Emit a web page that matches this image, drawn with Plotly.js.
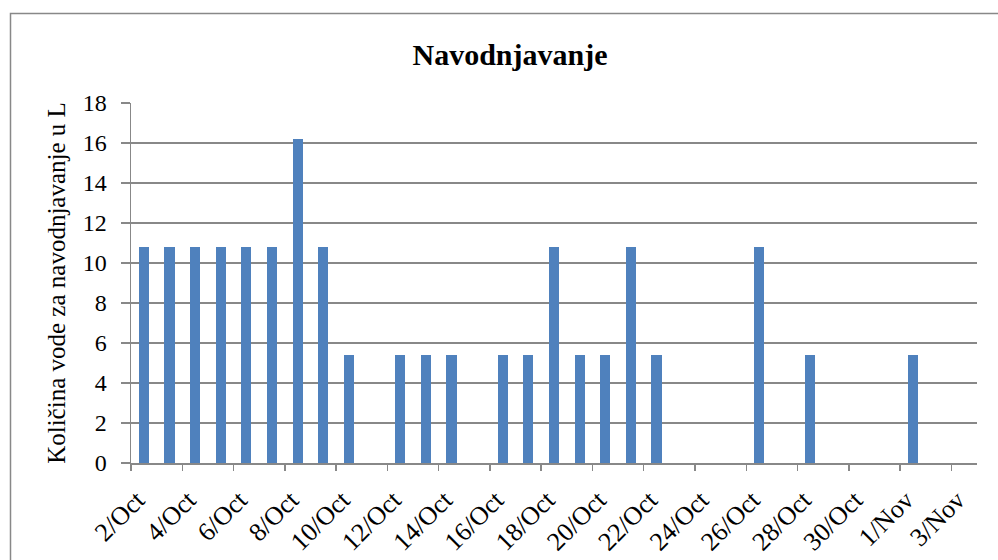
<!DOCTYPE html>
<html>
<head>
<meta charset="utf-8">
<script src="https://cdn.plot.ly/plotly-3.0.1.min.js"></script>
<style>html,body{margin:0;padding:0;background:#fff;}#chart{width:998px;height:560px;}</style>
</head>
<body>
<div id="chart"></div>
<script>
// Days (Oct 2 – Nov 3) and irrigation amounts in litres
const dates = [
  '2013-10-02','2013-10-03','2013-10-04','2013-10-05','2013-10-06','2013-10-07','2013-10-08',
  '2013-10-09','2013-10-10','2013-10-11','2013-10-12','2013-10-13','2013-10-14','2013-10-15',
  '2013-10-16','2013-10-17','2013-10-18','2013-10-19','2013-10-20','2013-10-21','2013-10-22',
  '2013-10-23','2013-10-24','2013-10-25','2013-10-26','2013-10-27','2013-10-28','2013-10-29',
  '2013-10-30','2013-10-31','2013-11-01','2013-11-02','2013-11-03'
];
const liters = [
  10.8,10.8,10.8,10.8,10.8,10.8,16.2,
  10.8,5.4,0,5.4,5.4,5.4,0,
  5.4,5.4,10.8,5.4,5.4,10.8,5.4,
  0,0,0,10.8,0,5.4,0,
  0,0,5.4,0,0
];
const chartTitle = 'Navodnjavanje';
const yTitle = 'Količina vode za navodnjavanje u L';
const xRange = ['2013-10-02','2013-11-04'];
const yTicks = [0,2,4,6,8,10,12,14,16,18];

const DAY = 86400000;
const serif = '"Liberation Serif", "Times New Roman", serif';

const trace = {
  type: 'bar',
  x: dates,
  y: liters,
  xperiod: DAY,
  xperiodalignment: 'middle',
  width: 0.4 * DAY,
  marker: {color: '#4F81BD', line: {width: 0}},
  hoverinfo: 'x+y'
};

const layout = {
  width: 998, height: 560,
  margin: {l: 131, r: 21, t: 103, b: 97},
  paper_bgcolor: '#fff', plot_bgcolor: '#fff',
  showlegend: false,
  bargap: 0,
  font: {family: serif, color: '#000', size: 22},
  title: {text: '<b>' + chartTitle + '</b>', font: {family: serif, size: 30, color: '#000'},
          x: 0.511, xref: 'container', xanchor: 'center', y: 0.903, yref: 'container', yanchor: 'middle'},
  xaxis: {
    type: 'date',
    range: xRange,
    tickmode: 'linear', tick0: '2013-10-02', dtick: 2 * DAY,
    tickformat: '%-d/%b',
    tickangle: -45,
    ticks: 'outside', ticklen: 6, tickcolor: '#888', tickwidth: 1.5,
    ticklabelstandoff: 4,
    ticklabelshift: 6,
    showgrid: false, zeroline: false,
    showline: true, linecolor: '#888', linewidth: 1.5,
    tickfont: {family: serif, size: 26, color: '#000'},
    automargin: false, fixedrange: true
  },
  yaxis: {
    range: [0, 18],
    tickmode: 'array', tickvals: yTicks,
    ticks: 'outside', ticklen: 9, tickcolor: '#888', tickwidth: 1.5,
    ticklabelstandoff: 9,
    showgrid: true, gridcolor: '#888', gridwidth: 1.5,
    zeroline: false,
    showline: true, linecolor: '#888', linewidth: 1.5,
    tickfont: {family: serif, size: 24, color: '#000'},
    title: {text: yTitle, font: {family: serif, size: 25, color: '#000'}, standoff: 10},
    automargin: false, fixedrange: true
  },
  shapes: [{
    type: 'rect', xref: 'paper', yref: 'paper',
    x0: (10.5 - 131) / 846, x1: 1.2,
    y0: -0.5, y1: (463 - 13.5) / 360,
    line: {color: '#888', width: 1.5}, fillcolor: 'rgba(0,0,0,0)', layer: 'below'
  }]
};

Plotly.newPlot('chart', [trace], layout, {displayModeBar: false, staticPlot: true});
</script>
</body>
</html>
